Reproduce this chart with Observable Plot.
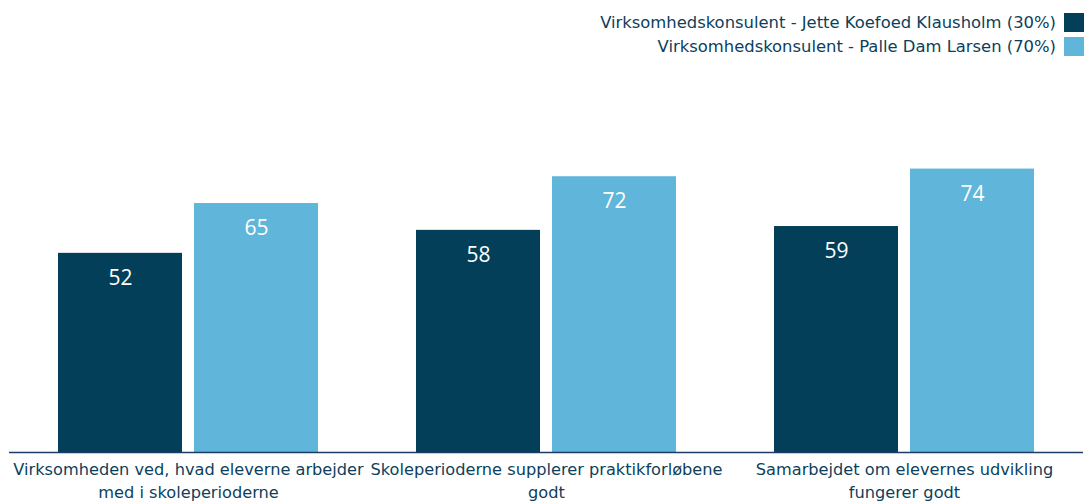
<!DOCTYPE html>
<html>
<head>
<meta charset="utf-8">
<script src="https://cdn.jsdelivr.net/npm/d3@7"></script>
<script src="https://cdn.jsdelivr.net/npm/@observablehq/plot@0.6"></script>
<style>
  html, body { margin: 0; padding: 0; background: #fff; }
  #wrap { position: relative; width: 1084px; height: 501px; overflow: hidden; }
  #legend { position: absolute; right: 0; top: 11px; font-family: "DejaVu Sans", Verdana, sans-serif; font-size: 16.4px; color: #0d3f5c; text-align: right; }
  #legend .row { display: flex; justify-content: flex-end; align-items: center; height: 23.5px; }
  #legend .sw { display: inline-block; width: 20px; height: 19px; margin-left: 8px; }
</style>
</head>
<body>
<div id="wrap"><div id="legend"></div></div>
<script>
const categories = [
  "Virksomheden ved, hvad eleverne arbejder\nmed i skoleperioderne",
  "Skoleperioderne supplerer praktikforløbene\ngodt",
  "Samarbejdet om elevernes udvikling\nfungerer godt"
];
const seriesNames = [
  "Virksomhedskonsulent - Jette Koefoed Klausholm (30%)",
  "Virksomhedskonsulent - Palle Dam Larsen (70%)"
];
const jetteValues = [52, 58, 59];
const palleValues = [65, 72, 74];
const seriesColors = ["#033f58", "#5fb5da"];

const data = [];
categories.forEach((c, i) => {
  data.push({category: c, series: seriesNames[0], value: jetteValues[i]});
  data.push({category: c, series: seriesNames[1], value: palleValues[i]});
});

const chart = Plot.plot({
  width: 1084,
  height: 501,
  marginTop: 69,
  marginBottom: 49,
  marginLeft: 9,
  marginRight: 1,
  style: {fontFamily: "DejaVu Sans, Verdana, sans-serif", background: "transparent"},
  fx: {domain: categories, padding: 0, label: null},
  x: {domain: seriesNames, paddingInner: 0.088, paddingOuter: 0.36, axis: null},
  y: {domain: [0, 100], axis: null},
  color: {domain: seriesNames, range: seriesColors},
  marks: [
    Plot.barY(data, {fx: "category", x: "series", y: "value", fill: "series"}),
    Plot.text(data, {fx: "category", x: "series", y: "value", text: d => String(d.value), dy: 25, fill: "white", fontSize: 21, fontFamily: "Open Sans, sans-serif", lineAnchor: "middle"}),
    Plot.ruleY([0], {stroke: "#1d3c64", strokeWidth: 1.5}),
    Plot.axisFx({anchor: "bottom", tickSize: 0, tickPadding: 6, fontSize: 16.2, fill: "#0d3f5c", label: null, lineHeight: 1.42})
  ]
});
document.getElementById("wrap").appendChild(chart);

const legend = document.getElementById("legend");
seriesNames.forEach((s, i) => {
  const row = document.createElement("div");
  row.className = "row";
  row.innerHTML = `<span>${s}</span><span class="sw" style="background:${seriesColors[i]}"></span>`;
  legend.appendChild(row);
});
</script>
</body>
</html>
